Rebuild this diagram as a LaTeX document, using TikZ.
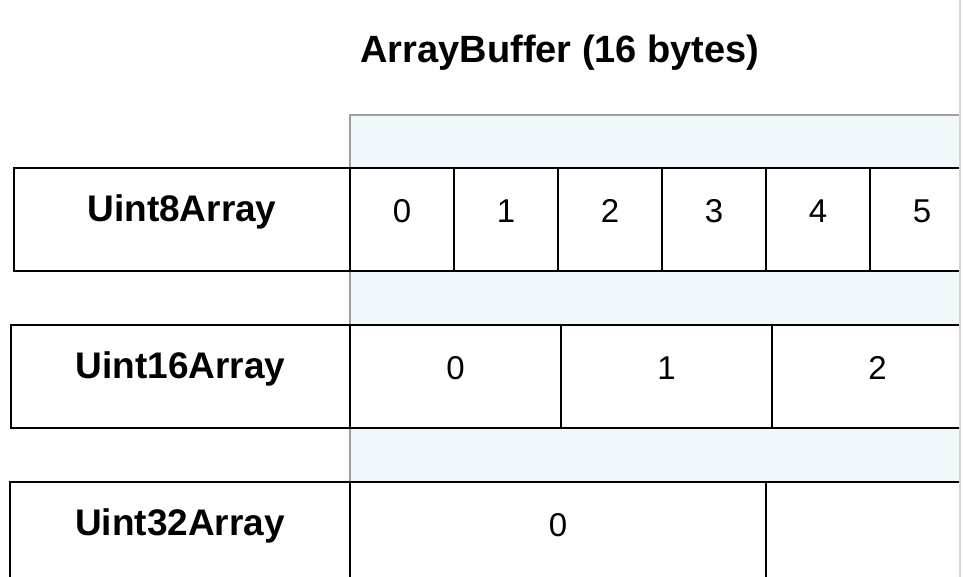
\documentclass[tikz,border=0pt]{standalone}
\usepackage{fontspec}
\setmainfont{Liberation Sans}
\usetikzlibrary{positioning}
\definecolor{bufferblue}{HTML}{F0F8FB}
\definecolor{buffergray}{HTML}{A0A0A0}
\definecolor{edgegray}{HTML}{D4D4D4}
\tikzset{
  viewbox/.style={draw=black, line width=2.2pt, fill=white, minimum height=103pt,
    inner sep=0pt, outer sep=0pt, anchor=north west,
    font=\fontsize{37}{44}\selectfont\bfseries, text height=0.72em, text depth=0.28em},
  bytecell/.style={draw=black, line width=2.2pt, fill=white, minimum height=103pt,
    inner sep=0pt, outer sep=0pt, anchor=north west,
    font=\fontsize{33}{40}\selectfont, text height=0.72em, text depth=0.12em},
}
\begin{document}
\begin{tikzpicture}[x=1pt,y=-1pt]
\useasboundingbox (0,0) rectangle (963,577);
\begin{scope}
\clip (0,0) rectangle (959,577);
% the buffer behind the views
\fill[bufferblue] (350,115) rectangle (980,600);
\draw[buffergray, line width=2pt] (350,600) -- (350,115) -- (980,115);
\node[font=\fontsize{38}{46}\selectfont\bfseries, anchor=base] (title) at (560,63) {ArrayBuffer (16 bytes)};
% Uint8Array
\node[viewbox, minimum width=336pt] (u8) at (14,168) {Uint8Array};
\node[bytecell, minimum width=104pt] (u8b0) at (350,168) {0};
\node[bytecell, minimum width=104pt] (u8b1) at (u8b0.north east) {1};
\node[bytecell, minimum width=104pt] (u8b2) at (u8b1.north east) {2};
\node[bytecell, minimum width=104pt] (u8b3) at (u8b2.north east) {3};
\node[bytecell, minimum width=104pt] (u8b4) at (u8b3.north east) {4};
\node[bytecell, minimum width=104pt] (u8b5) at (u8b4.north east) {5};
% Uint16Array
\node[viewbox, minimum width=339pt] (u16) at (11,325) {Uint16Array};
\node[bytecell, minimum width=211pt] (u16b0) at (350,325) {0};
\node[bytecell, minimum width=211pt] (u16b1) at (u16b0.north east) {1};
\node[bytecell, minimum width=211pt] (u16b2) at (u16b1.north east) {2};
% Uint32Array
\node[viewbox, minimum width=340pt] (u32) at (10,482) {Uint32Array};
\node[bytecell, minimum width=416pt] (u32b0) at (350,482) {0};
\node[bytecell, minimum width=416pt] (u32b1) at (u32b0.north east) {};
\end{scope}
\draw[edgegray, line width=1.5pt] (960,0) -- (960,577);
\end{tikzpicture}
\end{document}
